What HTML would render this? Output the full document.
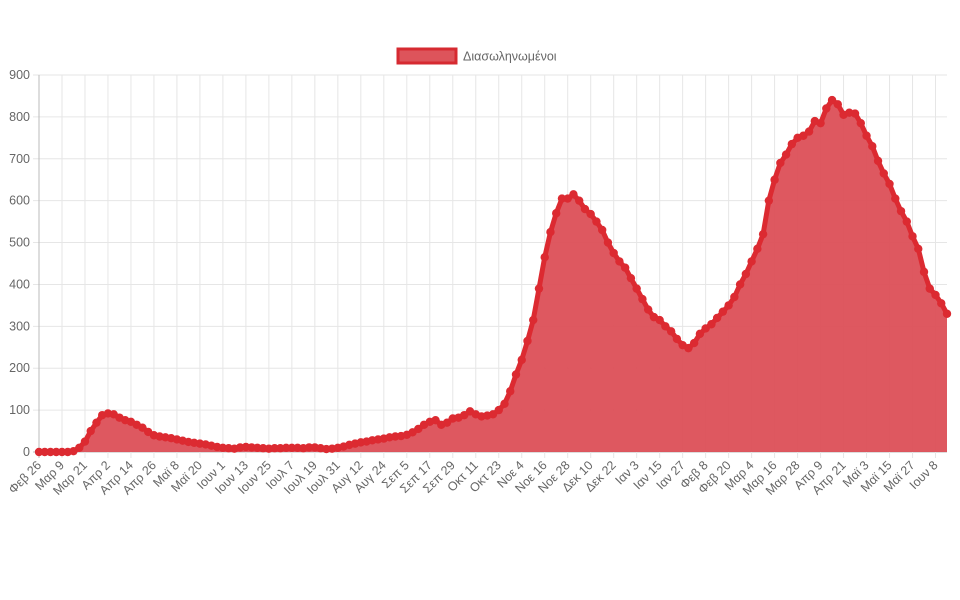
<!DOCTYPE html>
<html><head><meta charset="utf-8"><style>
html,body{margin:0;padding:0;background:#fff;width:960px;height:600px;overflow:hidden}
svg text{font-family:"Liberation Sans","DejaVu Sans",sans-serif;fill:#666;font-size:12.5px}
</style></head><body>
<svg id="chart" width="960" height="600">
<g>
<rect x="398" y="49" width="58" height="14" fill="#dd545b" stroke="#d62a31" stroke-width="3"/>
<text x="463" y="60.5">Διασωληνωμένοι</text>
</g>
<g id="grid"></g><g id="series"></g><g id="axes"></g>
</svg>
<script>
const values=[0,0,0,0,0,0,2,10,25,50,70,88,92,90,82,76,72,65,58,48,40,37,35,33,30,27,24,22,20,18,15,12,10,9,8,11,12,11,10,9,8,9,9,10,10,10,9,11,11,9,7,8,10,13,17,20,23,25,28,30,32,35,37,38,41,47,55,65,72,76,65,70,80,82,88,97,90,85,87,90,100,115,145,185,220,265,315,390,465,525,570,605,605,615,600,580,568,550,530,500,475,455,440,415,390,365,340,322,315,300,288,270,255,248,260,282,295,305,320,335,350,370,400,425,455,485,520,600,650,690,710,735,750,755,765,790,785,820,840,830,805,810,808,785,755,730,695,665,640,605,575,550,515,485,430,390,375,355,330];
const tickLabels=["Φεβ 26","Μαρ 9","Μαρ 21","Απρ 2","Απρ 14","Απρ 26","Μαϊ 8","Μαϊ 20","Ιουν 1","Ιουν 13","Ιουν 25","Ιουλ 7","Ιουλ 19","Ιουλ 31","Αυγ 12","Αυγ 24","Σεπ 5","Σεπ 17","Σεπ 29","Οκτ 11","Οκτ 23","Νοε 4","Νοε 16","Νοε 28","Δεκ 10","Δεκ 22","Ιαν 3","Ιαν 15","Ιαν 27","Φεβ 8","Φεβ 20","Μαρ 4","Μαρ 16","Μαρ 28","Απρ 9","Απρ 21","Μαϊ 3","Μαϊ 15","Μαϊ 27","Ιουν 8"];
const yTicks=[0,100,200,300,400,500,600,700,800,900];
const tickEvery=4;
const NS="http://www.w3.org/2000/svg";
const X0=39,X1=947,Y0=452,Y1=75,YMAX=900;
const n=values.length;
const stepX=(X1-X0)/(n-1);
function xs(i){return X0+i*stepX}
function ys(v){return Y0-(v/YMAX)*(Y0-Y1)}
function mk(t,a,p){const e=document.createElementNS(NS,t);for(const k in a)e.setAttribute(k,a[k]);p.appendChild(e);return e}
const grid=document.getElementById('grid'),axes=document.getElementById('axes'),series=document.getElementById('series');
yTicks.forEach(v=>{
 const l=mk('line',{x1:X0-6,x2:X1,y1:ys(v),y2:ys(v),stroke:v===0?'#bbb':'#e6e6e6','stroke-width':1},grid);
 
 
 const t=mk('text',{x:X0-9,y:ys(v)+4,'text-anchor':'end'},axes);
 t.textContent=v;
 
 
});
tickLabels.forEach((lab,k)=>{
 const x=xs(k*tickEvery);
 const l=mk('line',{x1:x,x2:x,y1:Y1,y2:Y0+6,stroke:k===0?'#bbb':'#e6e6e6','stroke-width':1},grid);
 
 
 const t=mk('text',{x:x+3,y:Y0+14,'text-anchor':'end',transform:`rotate(-45 ${x+3} ${Y0+14})`},axes);
 t.textContent=lab;
 
 
});
let d='';values.forEach((v,i)=>{d+=(i?'L':'M')+xs(i).toFixed(1)+','+ys(v).toFixed(1)});
const area=mk('path',{d:d+`L${xs(n-1)},${Y0}L${X0},${Y0}Z`,fill:'#dc4f57','fill-opacity':0.95},series);


const line=mk('path',{d:d,fill:'none',stroke:'#dc2a31','stroke-width':5,'stroke-linejoin':'round'},series);


values.forEach((v,i)=>{
 const c=mk('circle',{cx:xs(i),cy:ys(v),r:4.2,fill:'#dc2a31'},series);
 
 
});
</script>
</body></html>
